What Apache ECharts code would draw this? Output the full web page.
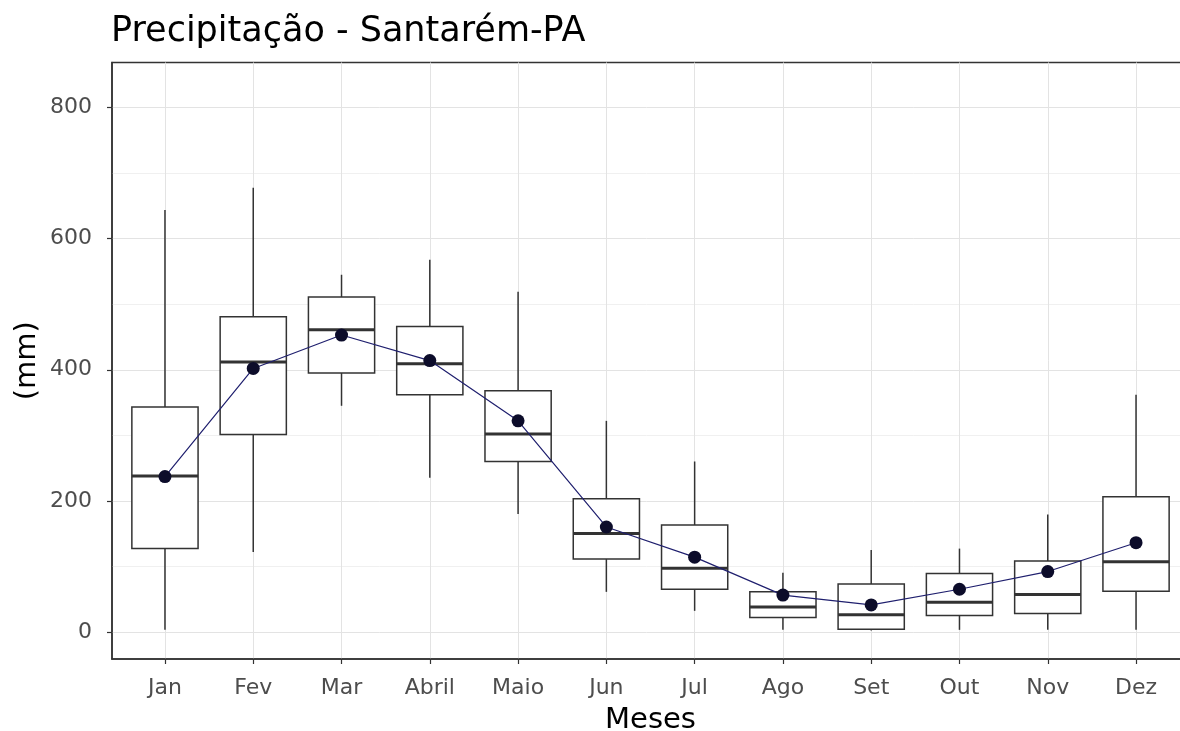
<!DOCTYPE html>
<html>
<head>
<meta charset="utf-8">
<title>Precipitação - Santarém-PA</title>
<script src="https://cdn.jsdelivr.net/npm/echarts@6/dist/echarts.min.js"></script>
<style>
  html, body { margin: 0; padding: 0; background: #ffffff; overflow: hidden; }
  #chart { width: 1180px; height: 731px; }
</style>
</head>
<body>
<div id="chart"></div>
<script>
// Monthly precipitation statistics (mm), Santarém-PA
const months = ['Jan', 'Fev', 'Mar', 'Abril', 'Maio', 'Jun', 'Jul', 'Ago', 'Set', 'Out', 'Nov', 'Dez'];
const whiskerLow  = [3, 122, 345, 235, 180, 61, 32, 3, 2, 3, 3, 3];
const quartile1   = [127, 301, 395, 362, 260, 111, 65, 22, 4, 25, 28, 62];
const median      = [238, 412, 461, 409, 302, 150, 97, 38, 26, 45, 57, 107];
const quartile3   = [343, 481, 511, 466, 368, 203, 163, 61, 73, 89, 108, 206];
const whiskerHigh = [644, 678, 545, 568, 519, 322, 260, 90, 125, 127, 179, 362];
const monthlyMean = [237, 402, 453, 414, 322, 160, 114, 56, 41, 65, 92, 136];
const yTicks = [0, 200, 400, 600, 800];

const FONT = 'DejaVu Sans';
const BOX_WIDTH = 0.75;
const monthPos = months.map((m, i) => i + 1);

const boxData = months.map((m, i) => [
  i + 1, whiskerLow[i], quartile1[i], median[i], quartile3[i], whiskerHigh[i]
]);
const meanData = months.map((m, i) => [i + 1, monthlyMean[i]]);

// Box-and-whisker glyph for one month, positioned through the axis scales
function renderBox(params, api) {
  const x = api.value(0);
  const lo = api.coord([x, api.value(1)]);
  const q1 = api.coord([x, api.value(2)]);
  const md = api.coord([x, api.value(3)]);
  const q3 = api.coord([x, api.value(4)]);
  const hi = api.coord([x, api.value(5)]);
  const half = api.size([BOX_WIDTH, 0])[0] / 2;
  const stroke = { stroke: '#333333', lineWidth: 1.5, fill: null };
  return {
    type: 'group',
    children: [
      { type: 'line', shape: { x1: lo[0], y1: lo[1], x2: q1[0], y2: q1[1] }, style: stroke },
      { type: 'line', shape: { x1: q3[0], y1: q3[1], x2: hi[0], y2: hi[1] }, style: stroke },
      { type: 'rect', shape: { x: q3[0] - half, y: q3[1], width: half * 2, height: q1[1] - q3[1] },
        style: { stroke: '#333333', lineWidth: 1.5, fill: '#ffffff' } },
      { type: 'line', shape: { x1: md[0] - half, y1: md[1], x2: md[0] + half, y2: md[1] },
        style: { stroke: '#333333', lineWidth: 3 } }
    ]
  };
}

const chart = echarts.init(document.getElementById('chart'), null, { renderer: 'canvas' });

chart.setOption({
  animation: false,
  backgroundColor: '#ffffff',
  title: {
    text: 'Precipitação - Santarém-PA',
    left: 111,
    top: 14,
    padding: 0,
    textStyle: { fontFamily: FONT, fontSize: 35, fontWeight: 'normal', color: '#000000' }
  },
  grid: {
    left: 112,
    top: 62.5,
    width: 1077,
    height: 596.5,
    outerBoundsMode: 'none',
    containLabel: false,
    show: true,
    borderColor: '#333333',
    borderWidth: 1.5,
    backgroundColor: '#ffffff'
  },
  xAxis: {
    type: 'value',
    min: 0.4,
    max: 12.6,
    name: 'Meses',
    nameLocation: 'middle',
    nameGap: 47,
    nameMoveOverlap: false,
    nameTextStyle: { fontFamily: FONT, fontSize: 29, color: '#000000' },
    axisLine: { show: true, onZero: false, lineStyle: { color: '#333333', width: 1.5 } },
    axisTick: { show: true, length: 5, customValues: monthPos, lineStyle: { color: '#333333', width: 1.2 } },
    axisLabel: {
      customValues: monthPos,
      margin: 18,
      fontFamily: FONT,
      fontSize: 22,
      color: '#4d4d4d',
      formatter: v => months[Math.round(v) - 1]
    },
    splitLine: { show: true, lineStyle: { color: '#e3e3e3', width: 1 } },
    minorSplitLine: { show: false }
  },
  yAxis: {
    type: 'value',
    min: -41.5,
    max: 869,
    name: '(mm)',
    nameLocation: 'middle',
    nameGap: 70,
    nameMoveOverlap: false,
    nameRotate: 90,
    nameTextStyle: { fontFamily: FONT, fontSize: 29, color: '#000000' },
    axisLine: { show: true, onZero: false, lineStyle: { color: '#333333', width: 1.5 } },
    axisTick: { show: true, length: 5, customValues: yTicks, lineStyle: { color: '#333333', width: 1.2 } },
    axisLabel: {
      customValues: yTicks,
      margin: 20,
      fontFamily: FONT,
      fontSize: 22,
      color: '#4d4d4d'
    },
    splitLine: { show: true, lineStyle: { color: '#e3e3e3', width: 1 } },
    minorTick: { show: false, splitNumber: 2 },
    minorSplitLine: { show: true, lineStyle: { color: '#f0f0f0', width: 1 } }
  },
  series: [
    {
      name: 'Distribuição',
      type: 'custom',
      renderItem: renderBox,
      encode: { x: 0, y: [1, 2, 3, 4, 5] },
      data: boxData,
      z: 2
    },
    {
      name: 'Média',
      type: 'line',
      data: meanData,
      symbol: 'circle',
      symbolSize: 13,
      itemStyle: { color: '#0c0c2a' },
      lineStyle: { color: '#1f1f6e', width: 1.2 },
      z: 3
    }
  ]
});
</script>
</body>
</html>
